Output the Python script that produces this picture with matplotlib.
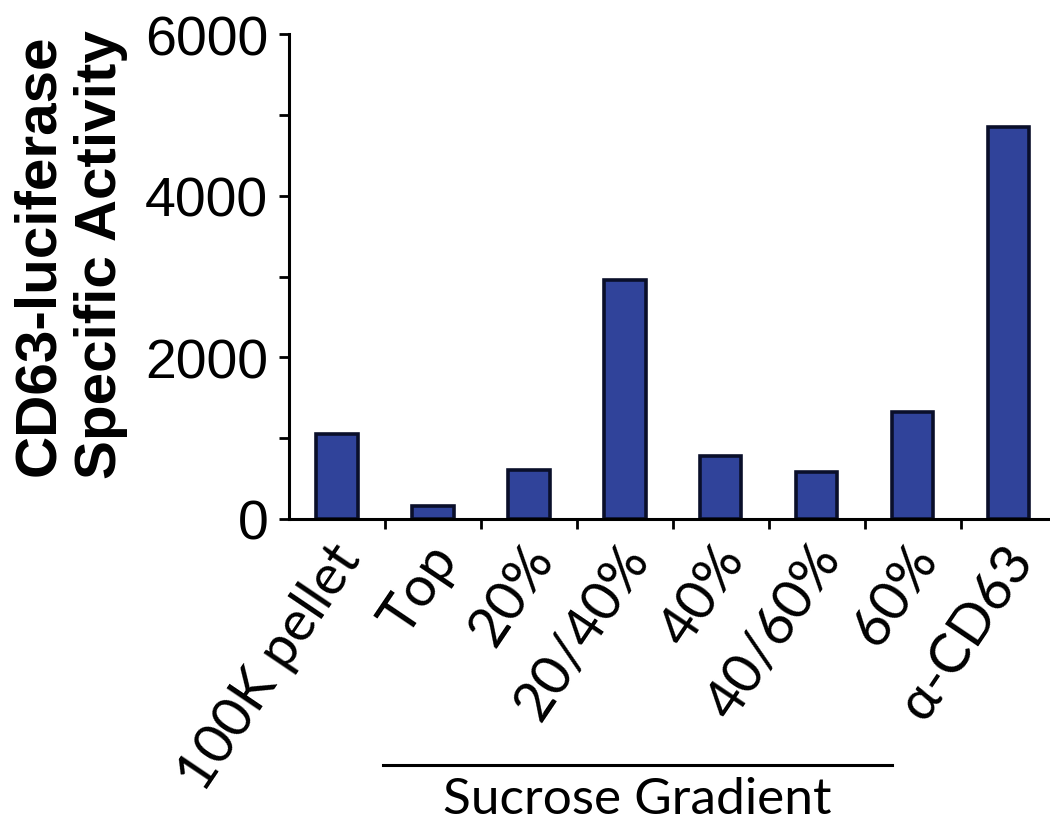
import matplotlib
matplotlib.use("Agg")
import matplotlib.pyplot as plt
import matplotlib.transforms as mtransforms
import numpy as np

categories = ["100K pellet", "Top", "20%", "20/40%", "40%", "40/60%", "60%", "\u03b1-CD63"]
values = [1050, 160, 605, 2960, 780, 580, 1320, 4850]
y_ticks = [0, 2000, 4000, 6000]
y_minor = [1000, 3000, 5000]
ylabel = "CD63-luciferase\nSpecific Activity"
group_label = "Sucrose Gradient"

fig = plt.figure(figsize=(10.5, 8.29), dpi=100)
ax = fig.add_axes([289/1050, 1 - 520/829, (1050-289)/1050, (520-35)/829])

x = np.arange(len(categories))
ax.bar(x, values, width=0.43, color="#30439a", edgecolor="#0a0f2a", linewidth=2.6, zorder=3)

ax.set_xlim(-0.5, 7.43)
ax.set_ylim(0, 6000)

for s in ["top", "right"]:
    ax.spines[s].set_visible(False)
for s in ["left", "bottom"]:
    ax.spines[s].set_linewidth(2.2)
    ax.spines[s].set_zorder(4)

ax.set_yticks(y_ticks)
ax.set_yticks(y_minor, minor=True)
ax.set_yticklabels([str(v) for v in y_ticks], fontsize=40, family="Liberation Sans")
ax.tick_params(axis="y", which="both", direction="out", length=7, width=2.0, pad=8)

ax.set_xticks(x)
ax.set_xticklabels(categories, rotation=56, ha="right", va="center",
                   rotation_mode="anchor", fontsize=40, family="Lato")
ax.set_xticks(x[:-1] + 0.5, minor=True)
ax.tick_params(axis="x", which="major", length=0, pad=22)
ax.tick_params(axis="x", which="minor", direction="out", length=7, width=2.0)

offset = mtransforms.ScaledTranslation(0.13, 0, fig.dpi_scale_trans)
for lab in ax.get_xticklabels():
    lab.set_transform(lab.get_transform() + offset)

fig.text(12/1050, 1 - 255/829, ylabel, rotation=90, fontsize=42, fontweight="bold",
         family="Liberation Sans", ha="left", va="center", linespacing=1.2, multialignment="center")

# group line and label
line_y = 1 - 766/829
trans = mtransforms.blended_transform_factory(ax.transData, fig.transFigure)
ax.add_line(plt.Line2D([0.5 + (383-385)/96, 5.5 + (890-863)/96], [line_y, line_y],
                       transform=trans, color="black", linewidth=2.2, clip_on=False))
fig.text((447+828)/2/1050, 1 - 800/829, group_label, fontsize=37, family="Lato",
         ha="center", va="center")

fig.savefig("out.png", dpi=100)
